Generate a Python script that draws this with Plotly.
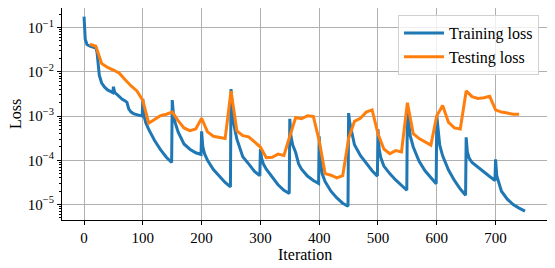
import plotly.graph_objects as go

# Training loss (iteration, value)
train_iter = [0, 2, 5, 10, 15, 20, 22, 24, 26, 30, 35, 40, 45, 49, 50, 52, 55, 60, 65, 70, 73, 76, 80, 85, 90, 95, 99,
              100, 102, 105, 110, 120, 130, 140, 149,
              150, 152, 155, 160, 170, 180, 190, 199,
              200, 202, 205, 210, 220, 230, 240, 249,
              250, 252, 255, 260, 270, 280, 290, 299,
              300, 302, 305, 310, 320, 330, 340, 349,
              350, 352, 355, 360, 365, 370, 380, 390, 399,
              400, 402, 405, 410, 420, 430, 440, 449,
              450, 452, 455, 460, 470, 480, 490, 499,
              500, 502, 505, 510, 520, 530, 540, 549,
              550, 552, 555, 560, 570, 580, 590, 599,
              600, 602, 605, 610, 620, 630, 640, 649,
              650, 652, 655, 660, 670, 680, 690, 699,
              700, 702, 705, 710, 720, 730, 740, 750]
train_loss = [0.178, 0.055, 0.0417, 0.038, 0.0363, 0.0347, 0.0282, 0.0126, 0.0083, 0.0056, 0.0045, 0.0039, 0.00355, 0.0034,
              0.0046, 0.00347, 0.00316, 0.0027, 0.0024, 0.0022, 0.00204, 0.00145, 0.00123, 0.00112, 0.00107, 0.00102, 0.0010,
              2.45e-3, 1.0e-3, 7.1e-4, 5.0e-4, 2.8e-4, 1.74e-4, 1.17e-4, 8.9e-5,
              2.3e-3, 1.12e-3, 7.1e-4, 4.4e-4, 2.34e-4, 1.78e-4, 1.48e-4, 1.35e-4,
              4.5e-4, 2.0e-4, 1.41e-4, 1.0e-4, 6.2e-5, 4.3e-5, 3.16e-5, 2.5e-5,
              4.1e-3, 1.41e-3, 6.3e-4, 3.0e-4, 1.2e-4, 8.3e-5, 5.6e-5, 4.5e-5,
              1.8e-4, 1.12e-4, 8.3e-5, 6.3e-5, 4.1e-5, 2.8e-5, 2.1e-5, 1.78e-5,
              8.7e-4, 3.5e-4, 2.2e-4, 1.5e-4, 8.3e-5, 6.3e-5, 4.4e-5, 3.5e-5, 3.0e-5,
              3.5e-4, 1.0e-4, 5.0e-5, 3.3e-5, 2.0e-5, 1.41e-5, 1.07e-5, 9.1e-6,
              1.17e-3, 7.1e-4, 4.7e-4, 2.24e-4, 1.29e-4, 8.5e-5, 5.8e-5, 4.4e-5,
              5.0e-4, 1.78e-4, 1.12e-4, 7.4e-5, 5.0e-5, 3.6e-5, 2.7e-5, 2.1e-5,
              1.23e-3, 7.1e-4, 3.5e-4, 2.0e-4, 9.5e-5, 5.8e-5, 4.0e-5, 2.95e-5,
              1.02e-3, 4.5e-4, 2.2e-4, 1.26e-4, 6.0e-5, 3.5e-5, 2.24e-5, 1.62e-5,
              3.3e-4, 1.58e-4, 1.12e-4, 8.9e-5, 6.9e-5, 5.5e-5, 4.3e-5, 3.5e-5,
              1.05e-4, 4.5e-5, 3.16e-5, 2.0e-5, 1.32e-5, 1.0e-5, 8.3e-6, 7.1e-6]

# Testing loss, every 10 iterations
test_iter = list(range(10, 750, 10))
test_loss = [0.042, 0.038, 0.0155, 0.0126, 0.011, 0.0093, 0.0066, 0.0048, 0.0037, 0.00224,
             6.9e-4, 8.3e-4, 1.02e-3, 1.1e-3, 1.23e-3, 7.9e-4, 5.4e-4, 4.7e-4, 5.1e-4, 8.9e-4,
             4.4e-4, 3.5e-4, 3.3e-4, 3.1e-4, 3.7e-3, 4.6e-4, 3.6e-4, 3.4e-4, 2.6e-4, 2.0e-4,
             1.15e-4, 1.17e-4, 1.38e-4, 1.29e-4, 3.5e-4, 9.3e-4, 8.7e-4, 1.02e-3, 9.8e-4, 2.8e-4,
             5.0e-5, 4.6e-5, 4.0e-5, 4.5e-5, 3.1e-4, 7.6e-4, 8.9e-4, 1.23e-3, 1.38e-3, 4.0e-4,
             1.8e-4, 1.41e-4, 1.66e-4, 1.55e-4, 2.0e-3, 4.0e-4, 3.1e-4, 2.6e-4, 2.2e-4, 1.02e-3,
             1.74e-3, 7.2e-4, 5.4e-4, 5.1e-4, 3.7e-3, 2.75e-3, 2.5e-3, 2.6e-3, 2.8e-3, 1.38e-3,
             1.23e-3, 1.17e-3, 1.1e-3, 1.1e-3]

x_ticks = [0, 100, 200, 300, 400, 500, 600, 700]
y_ticks = [1e-1, 1e-2, 1e-3, 1e-4, 1e-5]
y_ticklabels = ["10<sup>−1</sup>", "10<sup>−2</sup>", "10<sup>−3</sup>", "10<sup>−4</sup>", "10<sup>−5</sup>"]
y_minor = [m * 10.0 ** e for e in range(-6, 0) for m in range(2, 10)]

FONT = "Liberation Serif, Times New Roman, serif"

fig = go.Figure()
fig.add_trace(go.Scatter(x=train_iter, y=train_loss, mode="lines", name="Training loss",
                         line=dict(color="#1f77b4", width=3)))
fig.add_trace(go.Scatter(x=test_iter, y=test_loss, mode="lines", name="Testing loss",
                         line=dict(color="#ff7f0e", width=3)))

# the page body has an 8px margin, so the figure is sized/offset to compensate
fig.update_layout(
    width=547, height=260,
    margin=dict(l=54, r=8, t=0, b=48, autoexpand=False),
    paper_bgcolor="white", plot_bgcolor="white",
    font=dict(family=FONT, size=15, color="black"),
    showlegend=True,
    legend=dict(x=0.9835, y=0.967, xanchor="right", yanchor="top",
                bgcolor="rgba(255,255,255,0.8)", bordercolor="#d0d0d0", borderwidth=1,
                font=dict(family=FONT, size=16), itemwidth=40, tracegroupgap=0),
    annotations=[
        dict(text="Iteration", xref="paper", yref="paper", x=0.5, y=0, xanchor="center", yanchor="middle",
             yshift=-34, showarrow=False, font=dict(family=FONT, size=16)),
        dict(text="Loss", xref="paper", yref="paper", x=0, y=0.5, xanchor="center", yanchor="middle",
             xshift=-47, textangle=-90, showarrow=False, font=dict(family=FONT, size=16)),
    ],
)
fig.update_xaxes(
    range=[-37.5, 787.5], tickvals=x_ticks, ticks="outside", ticklen=4, tickcolor="black",
    showline=True, linecolor="black", linewidth=1, mirror=True, automargin=False,
    showgrid=True, gridcolor="#b0b0b0", gridwidth=1, zeroline=False,
)
fig.update_yaxes(
    type="log", range=[-5.35, -0.556], tickvals=y_ticks, ticktext=y_ticklabels,
    ticks="outside", ticklen=4, tickcolor="black", automargin=False,
    minor=dict(tickvals=y_minor, ticks="outside", ticklen=2, tickcolor="black", showgrid=False),
    showline=True, linecolor="black", linewidth=1, mirror=True,
    showgrid=True, gridcolor="#b0b0b0", gridwidth=1, zeroline=False,
)

fig.write_html("out.html")
